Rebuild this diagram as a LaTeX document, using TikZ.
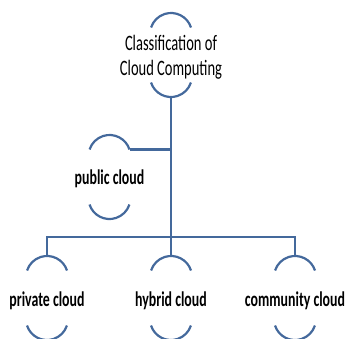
\documentclass[tikz,border=0pt]{standalone}
\usepackage{fontspec}
\newfontfamily\narrowfont[FakeStretch=0.66]{Carlito}
\definecolor{linkblue}{HTML}{44699C}
\tikzset{
	halo/.pic={
		\draw[line width=2.2pt, linkblue] (20,28.5) arc[start angle=18, end angle=162, radius=21];
		\draw[line width=2.2pt, linkblue] (-20,-26.5) arc[start angle=198, end angle=342, radius=21];
		\coordinate (-top) at (0,43);
		\coordinate (-bot) at (0,-41);
		\coordinate (-right) at (20,28.5);
	},
	lbl/.style={font=\narrowfont\fontsize{21}{25}\selectfont\bfseries, inner sep=0pt, align=center},
	link/.style={line width=2.6pt, linkblue}
}
\begin{document}
\begin{tikzpicture}[x=1pt,y=1pt]
	\useasboundingbox (0,0) rectangle (345,-338);
	\clip (0,0) rectangle (345,-338);

	\node[lbl, font=\narrowfont\fontsize{22}{25}\selectfont] (cls) at (171,-57) {Classification of\\Cloud Computing};
	\pic (cls) at (171,-56) {halo};

	\node[lbl] (pub) at (109.5,-179) {public cloud};
	\pic (pub) at (109.5,-178) {halo};

	\node[lbl] (priv) at (47,-301) {private cloud};
	\pic (priv) at (47,-299) {halo};
	\node[lbl] (hyb) at (171,-301) {hybrid cloud};
	\pic (hyb) at (171,-299) {halo};
	\node[lbl] (comm) at (295,-301) {community cloud};
	\pic (comm) at (295,-299) {halo};

	% connectors
	\draw[link] (cls-bot) -- (hyb-top);
	\draw[link] (pub-right) -- (pub-right -| cls-bot);
	\draw[link] (priv-top) -- ++(0,19) -| (comm-top);
\end{tikzpicture}
\end{document}
